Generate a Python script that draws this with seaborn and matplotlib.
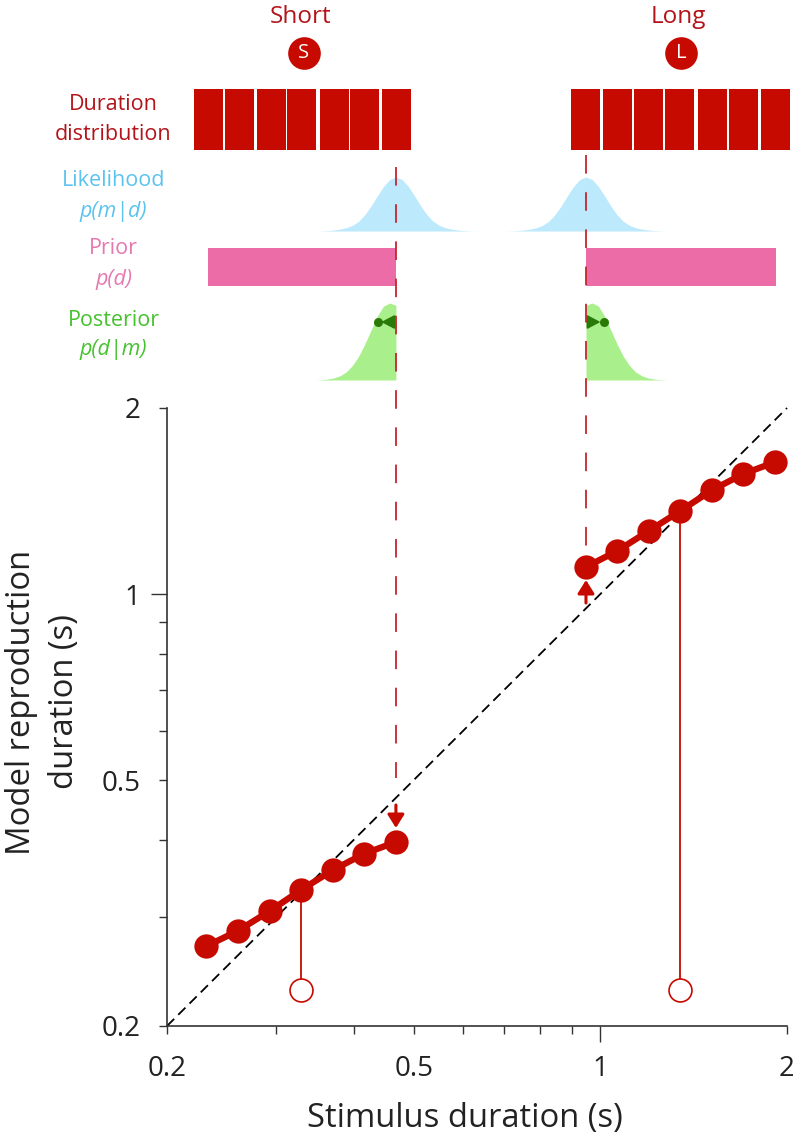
import numpy as np
import pandas as pd
import matplotlib
matplotlib.use("Agg")
import matplotlib.pyplot as plt
import seaborn as sns

# ---- data (seconds)
short_d = [0.231, 0.260, 0.293, 0.329, 0.371, 0.416, 0.468]
short_r = [0.269, 0.285, 0.307, 0.332, 0.358, 0.380, 0.397]
long_d = [0.948, 1.064, 1.197, 1.344, 1.514, 1.699, 1.913]
long_r = [1.106, 1.174, 1.265, 1.362, 1.473, 1.564, 1.635]
short_bins = [0.2329, 0.2622, 0.2944, 0.3301, 0.3720, 0.4172, 0.4689]
long_bins = [0.948, 1.064, 1.197, 1.344, 1.514, 1.699, 1.913]
unity = [0.2, 2.0]
probe_d = [0.329, 1.344]
probe_base = [0.2288, 0.2288]
probe_top = [0.332, 1.362]
boundary = [0.468, 0.948]
prior_short = [0.2326, 0.468]
prior_long = [0.948, 1.919]
post_means = [0.4375, 1.0135]
# bell shape: log10 offset from the peak -> relative height
bell_offset = [0.00, 0.01, 0.02, 0.03, 0.04, 0.05, 0.06, 0.07, 0.08, 0.09, 0.10, 0.11, 0.12, 0.13]
bell_height = [1.0, 0.953, 0.825, 0.650, 0.464, 0.302, 0.180, 0.105, 0.060, 0.035, 0.018, 0.008, 0.003, 0.0]
post_offset = [0.00, 0.01, 0.02, 0.03, 0.04, 0.05, 0.06, 0.07, 0.08, 0.09, 0.10, 0.11, 0.12, 0.13]
post_height = [0.97, 1.0, 0.96, 0.83, 0.65, 0.47, 0.31, 0.19, 0.105, 0.055, 0.027, 0.012, 0.004, 0.0]
major_ticks = [0.2, 0.5, 1, 2]
major_labels = ["0.2", "0.5", "1", "2"]
minor_ticks = [0.3, 0.4, 0.6, 0.7, 0.8, 0.9]

RED = "#C70A00"
DARKRED = "#B3141A"
DASH = "#C4262E"
BLUE_T, BLUE_F = "#5CC3EE", "#BCE9FB"
PINK_T, PINK_F = "#E678B0", "#EC6CA8"
GREEN_T, GREEN_F = "#45C22D", "#A9F08D"
DKGREEN = "#2A7A08"
INK = "#222222"

W, H = 793, 1141
sns.set_style("ticks")
plt.rcParams["font.family"] = ["Open Sans", "DejaVu Sans"]
fig = plt.figure(figsize=(W / 100, H / 100), dpi=100)

# main axes
L, R, T, B = 167, 787, 408, 1026
ax = fig.add_axes([L / W, 1 - B / H, (R - L) / W, (B - T) / H])
ax.set_xscale("log")
ax.set_yscale("log")
ax.set_xlim(0.2, 2)
ax.set_ylim(0.2, 2)
sns.despine(ax=ax)
for s in ("left", "bottom"):
    ax.spines[s].set_color("#333333")
    ax.spines[s].set_linewidth(1.2)

ax.plot(unity, unity, color="black", lw=1.3, dashes=(5.6, 3.2), zorder=2, clip_on=False)
for dset, rset in ((short_d, short_r), (long_d, long_r)):
    df = pd.DataFrame({"d": dset, "r": rset})
    sns.lineplot(data=df, x="d", y="r", color=RED, lw=4.6, marker="o", markersize=17.5,
                 markeredgewidth=0, ax=ax, zorder=4, estimator=None, sort=False)
for x, y0, y1 in zip(probe_d, probe_base, probe_top):
    ax.plot([x, x], [y0, y1], color=RED, lw=1.3, zorder=3)
ax.plot(probe_d, probe_base, ls="none", marker="o", ms=16.5, mfc="white", mec=RED, mew=1.2, zorder=5)

ax.set_xticks(major_ticks)
ax.set_xticklabels(major_labels)
ax.set_yticks(major_ticks)
ax.set_yticklabels(major_labels)
ax.set_xticks(minor_ticks, minor=True)
ax.set_yticks(minor_ticks, minor=True)
ax.set_xticklabels([], minor=True)
ax.set_yticklabels([], minor=True)
ax.tick_params(axis="both", which="both", direction="out", length=6, width=1.0, color="#333333")
ax.tick_params(axis="both", which="major", labelsize=20, labelcolor=INK)
ax.tick_params(axis="x", which="major", pad=15)
ax.tick_params(axis="y", which="major", pad=13)
# the tick at 1 is the long one on both axes
ax.xaxis.get_major_ticks()[2].tick1line.set_markersize(11.5)
ax.yaxis.get_major_ticks()[2].tick1line.set_markersize(11.5)
ax.set_xlabel("Stimulus duration (s)", fontsize=23.6, color=INK, va="center")
ax.set_ylabel("Model reproduction\nduration (s)", fontsize=23.6, color=INK, va="center", linespacing=1.36)
ax.xaxis.set_label_coords((465 - L) / (R - L), (B - 1118) / (B - T))
ax.yaxis.set_label_coords((43 - L) / (R - L), (B - 702) / (B - T))

# schematic overlay: same duration scale, y in figure rows
top = fig.add_axes([0, 0, 1, 1], facecolor="none")
top.set_xscale("log")
top.set_xlim(0.2 * 10 ** (-L / 620), 0.2 * 10 ** ((W - L) / 620))
top.set_ylim(H, 0)
top.axis("off")

# duration distribution bars
half = 10 ** (14.5 / 620)
for d in short_bins + long_bins:
    top.barh(119.5, d * half - d / half, left=d / half, height=61, color=RED, lw=0)

off = np.array(bell_offset)
hgt = np.array(bell_height)
full_off = np.r_[-off[::-1], off[1:]]
full_hgt = np.r_[hgt[::-1], hgt[1:]]
# likelihood
for b in boundary:
    top.fill_between(b * 10 ** full_off, 231 - 54 * full_hgt, 231, color=BLUE_F, lw=0)
# prior
top.barh(267, prior_short[1] - prior_short[0], left=prior_short[0], height=38, color=PINK_F, lw=0)
top.barh(267, prior_long[1] - prior_long[0], left=prior_long[0], height=38, color=PINK_F, lw=0)
# posterior (truncated by the prior)
poff = np.array(post_offset)
phgt = np.array(post_height)
top.fill_between(boundary[0] * 10 ** (-poff), 380 - 77 * phgt, 380, color=GREEN_F, lw=0)
top.fill_between(boundary[1] * 10 ** poff, 380 - 77 * phgt, 380, color=GREEN_F, lw=0)

# posterior mean arrows
for b, m in zip(boundary, post_means):
    top.annotate("", xy=(m, 322), xytext=(b * (0.992 if b < 0.5 else 1.004), 322),
                 arrowprops=dict(arrowstyle="-|>,head_length=0.8,head_width=0.42", color=DKGREEN, lw=1.3,
                                 mutation_scale=10, shrinkA=0, shrinkB=2.5), zorder=6)
top.plot(post_means, [322, 322], ls="none", marker="o", ms=6.5, color=DKGREEN, mew=0, zorder=6)

# vertical dashed guides
top.plot([boundary[0]] * 2, [167, 778], color=DASH, lw=1.3, dashes=(10.3, 10.3), zorder=7)
top.plot([boundary[1]] * 2, [155, 546], color=DASH, lw=1.3, dashes=(10.3, 10.3), zorder=7)
red_arrow = "-|>,head_length=0.8,head_width=0.5"
top.annotate("", xy=(boundary[0], 828), xytext=(boundary[0], 805),
             arrowprops=dict(arrowstyle=red_arrow, color=RED, lw=2.2, mutation_scale=10,
                             shrinkA=0, shrinkB=0))
top.annotate("", xy=(boundary[1], 580), xytext=(boundary[1], 603),
             arrowprops=dict(arrowstyle=red_arrow, color=RED, lw=2.2, mutation_scale=10,
                             shrinkA=0, shrinkB=0))

# headers
def pxx(p):
    return 0.2 * 10 ** ((p - L) / 620)

top.text(pxx(301), 17, "Short", color=DARKRED, fontsize=17.5, ha="center", va="center")
top.text(pxx(678), 17, "Long", color=DARKRED, fontsize=17.5, ha="center", va="center")
top.plot([pxx(304), pxx(681)], [53, 53], ls="none", marker="o", ms=23.5, color=RED, mew=0)
top.text(pxx(304), 53, "S", color="white", fontsize=14.5, ha="center", va="center")
top.text(pxx(681), 53, "L", color="white", fontsize=14.5, ha="center", va="center")

# row labels
row_x = pxx(113.5)
labels = [("Duration", 105, DARKRED, "normal"), ("distribution", 135, DARKRED, "normal"),
          ("Likelihood", 180, BLUE_T, "normal"), ("p(m|d)", 211, BLUE_T, "italic"),
          ("Prior", 249, PINK_T, "normal"), ("p(d)", 279, PINK_T, "italic"),
          ("Posterior", 320, GREEN_T, "normal"), ("p(d|m)", 350, GREEN_T, "italic")]
for txt, y, c, st in labels:
    top.text(row_x, y, txt, color=c, fontsize=15.5, style=st, ha="center", va="center")

fig.savefig("out.png", dpi=100)
